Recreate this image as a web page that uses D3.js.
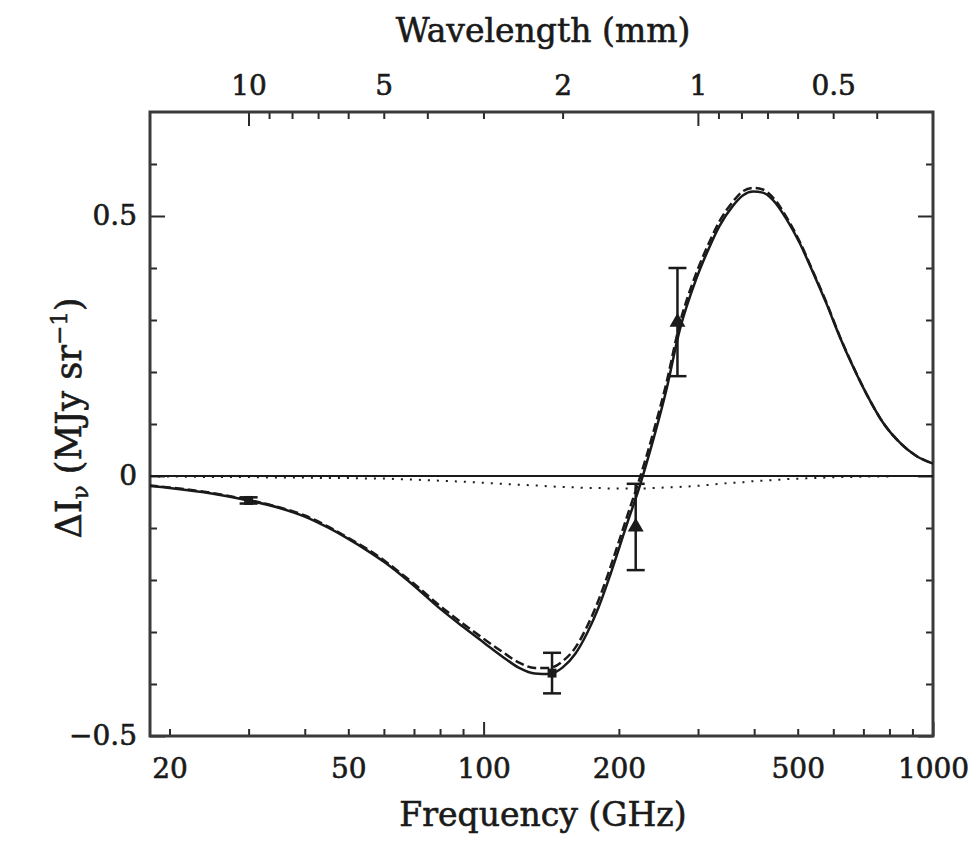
<!DOCTYPE html>
<html>
<head>
<meta charset="utf-8">
<script src="https://cdn.jsdelivr.net/npm/d3@7"></script>
<style>
  html, body { margin: 0; padding: 0; background: #fff; }
  svg { display: block; }
</style>
</head>
<body>
<svg id="chart" width="976" height="861"></svg>
<script>
// Sunyaev–Zel'dovich spectral distortion of a cluster:
// total fit (solid), thermal part (dashed), kinetic part (dotted) and measurements.

const freqGHz = [18, 20, 25, 30, 35, 40, 45, 50, 55, 60, 65, 70, 80, 90, 100, 110, 120, 130, 140, 150,
  160, 170, 180, 190, 200, 210, 220, 230, 240, 255, 273, 297, 318, 335, 359, 378, 398, 418, 440, 472,
  505, 541, 579, 620, 664, 711, 775, 844, 920, 1000];

const totalFit = [-0.019, -0.023, -0.034, -0.047, -0.061, -0.078, -0.099, -0.121, -0.143, -0.165,
  -0.188, -0.211, -0.255, -0.290, -0.320, -0.347, -0.369, -0.380, -0.381, -0.368,
  -0.342, -0.302, -0.254, -0.198, -0.140, -0.084, -0.033, 0.022, 0.078, 0.165,
  0.280, 0.378, 0.440, 0.481, 0.520, 0.540, 0.547, 0.545, 0.531, 0.494,
  0.448, 0.391, 0.332, 0.268, 0.210, 0.158, 0.102, 0.064, 0.038, 0.024];

const thermalPart = [-0.018, -0.022, -0.033, -0.046, -0.060, -0.076, -0.097, -0.119, -0.140, -0.162,
  -0.185, -0.207, -0.250, -0.284, -0.313, -0.338, -0.359, -0.369, -0.369, -0.356,
  -0.330, -0.289, -0.240, -0.184, -0.126, -0.070, -0.018, 0.036, 0.092, 0.178,
  0.292, 0.389, 0.450, 0.490, 0.528, 0.548, 0.554, 0.551, 0.536, 0.498,
  0.451, 0.393, 0.334, 0.269, 0.211, 0.158, 0.102, 0.064, 0.038, 0.024];

const kineticPart = [-0.001, -0.001, -0.002, -0.002, -0.003, -0.003, -0.004, -0.004, -0.005, -0.005,
  -0.006, -0.007, -0.009, -0.011, -0.013, -0.015, -0.017, -0.018, -0.020, -0.021,
  -0.022, -0.023, -0.023, -0.024, -0.024, -0.024, -0.024, -0.024, -0.023, -0.022,
  -0.021, -0.019, -0.017, -0.015, -0.013, -0.012, -0.010, -0.009, -0.008, -0.006,
  -0.005, -0.004, -0.003, -0.002, -0.002, -0.001, -0.001, 0.000, 0.000, 0.000];

// measurements with 1-sigma errors
const obsFreqGHz = [30, 142, 218, 270];
const obsValue   = [-0.047, -0.379, -0.098, 0.296];
const obsError   = [0.006, 0.039, 0.083, 0.104];
const obsMarker  = ["square", "square", "triangle", "triangle"];

// axis ticks
const freqTicks = [20, 30, 40, 50, 60, 70, 80, 90, 100, 200, 300, 400, 500, 600, 700, 800, 900, 1000];
const freqTickLabels = [20, 50, 100, 200, 500, 1000];
const freqMajor = [100, 1000];
const waveTicks = [10, 9, 8, 7, 6, 5, 4, 3, 2, 1, 0.9, 0.8, 0.7, 0.6, 0.5, 0.4];
const waveTickLabels = [10, 5, 2, 1, 0.5];
const waveMajor = [10, 1];
const yTicks = [-0.5, -0.4, -0.3, -0.2, -0.1, 0, 0.1, 0.2, 0.3, 0.4, 0.5, 0.6];
const yTickLabels = [-0.5, 0, 0.5];

const SPEED_OF_LIGHT = 299.792458; // mm * GHz

const svg = d3.select("#chart");
const plotLeft = 150, plotRight = 933, plotTop = 112, plotBottom = 736;
const serif = "'DejaVu Serif', 'Liberation Serif', serif";
const ink = "#1a1a1a";

const x = d3.scaleLog().domain([18.1, 1000]).range([plotLeft, plotRight]);
const wave = d3.scaleLog().domain([SPEED_OF_LIGHT / 18.1, SPEED_OF_LIGHT / 1000]).range([plotLeft, plotRight]);
const y = d3.scaleLinear().domain([-0.5, 0.7]).range([plotBottom, plotTop]);

svg.append("rect").attr("width", 976).attr("height", 861).attr("fill", "#fff");

const near = (arr, d) => arr.some(v => Math.abs(v - d) < 1e-9);
const fmtNum = d => (d === 0 ? "0" : String(d).replace("-", "\u2212"));

// bottom frequency axis
const gx = svg.append("g").attr("transform", `translate(0,${plotBottom})`)
  .call(d3.axisBottom(x).tickValues(freqTicks).tickSizeInner(-7).tickSizeOuter(0).tickPadding(22)
    .tickFormat(d => near(freqTickLabels, d) ? String(d) : ""));
gx.selectAll(".tick line").attr("y2", d => near(freqMajor, d) ? -14 : -7);

// top wavelength axis
const gt = svg.append("g").attr("transform", `translate(0,${plotTop})`)
  .call(d3.axisTop(wave).tickValues(waveTicks).tickSizeInner(-7).tickSizeOuter(0).tickPadding(17)
    .tickFormat(d => near(waveTickLabels, d) ? String(d) : ""));
gt.selectAll(".tick line").attr("y2", d => near(waveMajor, d) ? 14 : 7);

// left value axis
const gy = svg.append("g").attr("transform", `translate(${plotLeft},0)`)
  .call(d3.axisLeft(y).tickValues(yTicks).tickSizeInner(-7).tickSizeOuter(0).tickPadding(13)
    .tickFormat(d => near(yTickLabels, d) ? fmtNum(d) : ""));
gy.selectAll(".tick line").attr("x2", d => near(yTickLabels, d) ? 15 : 7);

// right value axis (ticks only)
const gr = svg.append("g").attr("transform", `translate(${plotRight},0)`)
  .call(d3.axisRight(y).tickValues(yTicks).tickSizeInner(-7).tickSizeOuter(0).tickFormat(""));
gr.selectAll(".tick line").attr("x2", d => near(yTickLabels, d) ? -15 : -7);

[gx, gt, gy, gr].forEach(g => {
  g.select(".domain").remove();
  g.attr("font-family", serif).attr("font-size", 28);
  g.selectAll(".tick line").attr("stroke", "#2a2a2a").attr("stroke-width", 2);
  g.selectAll(".tick text").attr("fill", ink).attr("stroke", ink).attr("stroke-width", 0.6);
});

// plot frame
svg.append("rect")
  .attr("x", plotLeft).attr("y", plotTop).attr("width", plotRight - plotLeft).attr("height", plotBottom - plotTop)
  .attr("fill", "none").attr("stroke", "#3a3a3a").attr("stroke-width", 3);

// zero level
svg.append("line")
  .attr("x1", plotLeft).attr("x2", plotRight).attr("y1", y(0)).attr("y2", y(0))
  .attr("stroke", ink).attr("stroke-width", 2);

svg.append("clipPath").attr("id", "plot-area")
  .append("rect").attr("x", plotLeft).attr("y", plotTop)
  .attr("width", plotRight - plotLeft).attr("height", plotBottom - plotTop);

const line = d3.line().x(d => x(d[0])).y(d => y(d[1])).curve(d3.curveMonotoneX);
const plot = svg.append("g").attr("clip-path", "url(#plot-area)");

plot.append("path").datum(freqGHz.map((f, i) => [f, kineticPart[i]]))
  .attr("d", line).attr("fill", "none").attr("stroke", ink)
  .attr("stroke-width", 2).attr("stroke-dasharray", "2,7");

plot.append("path").datum(freqGHz.map((f, i) => [f, totalFit[i]]))
  .attr("d", line).attr("fill", "none").attr("stroke", ink).attr("stroke-width", 2.5);

plot.append("path").datum(freqGHz.map((f, i) => [f, thermalPart[i]]))
  .attr("d", line).attr("fill", "none").attr("stroke", ink)
  .attr("stroke-width", 2.5).attr("stroke-dasharray", "9,4");

// measurements
const obs = obsFreqGHz.map((f, i) => ({ f, v: obsValue[i], e: obsError[i], m: obsMarker[i] }));
const og = svg.append("g");
const cap = 9;
obs.forEach(d => {
  const cx = x(d.f);
  og.append("line").attr("x1", cx).attr("x2", cx).attr("y1", y(d.v - d.e)).attr("y2", y(d.v + d.e))
    .attr("stroke", ink).attr("stroke-width", 2.5);
  [d.v - d.e, d.v + d.e].forEach(v => {
    og.append("line").attr("x1", cx - cap).attr("x2", cx + cap).attr("y1", y(v)).attr("y2", y(v))
      .attr("stroke", ink).attr("stroke-width", 2.5);
  });
  const sym = d3.symbol()
    .type(d.m === "triangle" ? d3.symbolTriangle : d3.symbolSquare)
    .size(d.m === "triangle" ? 110 : 80);
  og.append("path").attr("d", sym()).attr("transform", `translate(${cx},${y(d.v)})`).attr("fill", ink);
});

// titles
const titleStyle = t => t.attr("font-family", serif).attr("fill", ink)
  .attr("stroke", ink).attr("stroke-width", 0.6);

svg.append("text").attr("x", 543).attr("y", 42).attr("text-anchor", "middle")
  .attr("font-size", 33).call(titleStyle).text("Wavelength (mm)");

svg.append("text").attr("x", 543).attr("y", 826).attr("text-anchor", "middle")
  .attr("font-size", 33).call(titleStyle).text("Frequency (GHz)");

const yl = svg.append("text")
  .attr("transform", "translate(81,418) rotate(-90)")
  .attr("text-anchor", "middle")
  .attr("font-size", 35).call(titleStyle);
yl.append("tspan").text("\u0394I");
yl.append("tspan").attr("font-size", 23).attr("dy", 7).text("\u03bd");
yl.append("tspan").attr("dy", -7).text(" (MJy sr");
yl.append("tspan").attr("font-size", 23).attr("dy", -14).text("\u22121");
yl.append("tspan").attr("dy", 14).text(")");
</script>
</body>
</html>
